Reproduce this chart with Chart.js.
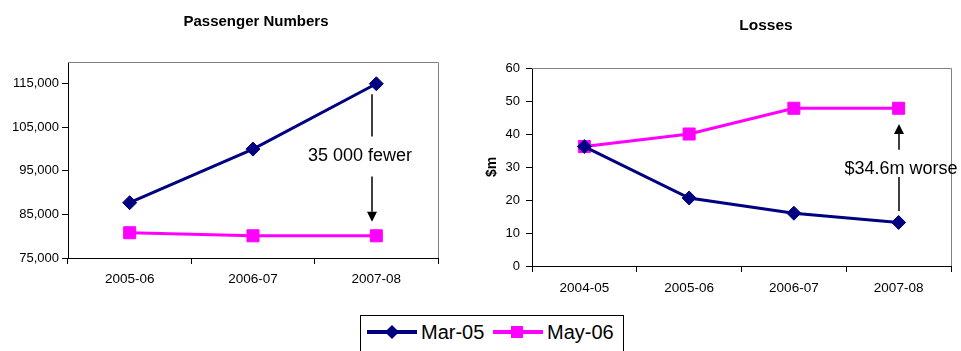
<!DOCTYPE html>
<html>
<head>
<meta charset="utf-8">
<script src="https://cdn.jsdelivr.net/npm/chart.js@4.4.1/dist/chart.umd.min.js"></script>
<style>
  body { margin: 0; background: #fff; width: 961px; height: 351px; overflow: hidden; position: relative;
         font-family: "Liberation Sans", Arial, sans-serif; color: #000; }
  canvas { position: absolute; top: 0; }
  .title { position: absolute; font-weight: bold; line-height: 1; white-space: nowrap; transform: translate(-50%, -50%); }
  #legend { position: absolute; left: 360px; top: 315px; width: 262px; height: 60px; border: 1px solid #000; }
  #legend span { position: absolute; }
  .ln { top: 14px; width: 50px; height: 4px; }
  .lt { top: 6px; font-size: 20px; line-height: 1; }
</style>
</head>
<body>
<canvas id="paxChart" width="480" height="300" style="left:0"></canvas>
<canvas id="lossChart" width="481" height="300" style="left:480px"></canvas>
<div class="title" style="left:256px;top:20px;font-size:15px">Passenger Numbers</div>
<div class="title" style="left:766px;top:25px;font-size:15.5px">Losses</div>
<div id="legend">
  <span class="ln" style="left:6px;background:#000080"></span>
  <span style="left:26px;top:11px;width:10px;height:10px;background:#000080;transform:rotate(45deg)"></span>
  <span class="lt" style="left:60px">Mar-05</span>
  <span class="ln" style="left:132px;background:#ff00ff"></span>
  <span style="left:150px;top:10px;width:12px;height:12px;background:#ff00ff"></span>
  <span class="lt" style="left:186px">May-06</span>
</div>
<script>
// --- data ---
const paxYears = ["2005-06", "2006-07", "2007-08"];
const paxMar05 = [87700, 100000, 115000];
const paxMay06 = [80800, 80100, 80100];
const paxTicks = [75000, 85000, 95000, 105000, 115000];

const lossYears = ["2004-05", "2005-06", "2006-07", "2007-08"];
const lossMar05 = [36.2, 20.6, 16.0, 13.2];
const lossMay06 = [36.2, 40.0, 47.8, 47.8];
const lossTicks = [0, 10, 20, 30, 40, 50, 60];

const navy = "#000080";
const pink = "#ff00ff";

Chart.defaults.font.family = '"Liberation Sans", Arial, sans-serif';
Chart.defaults.color = "#000";

// gray top/right edges of the plot box
const plotFrame = {
  id: "plotFrame",
  beforeDatasetsDraw(chart) {
    const { ctx, chartArea: { left, top, right, bottom } } = chart;
    ctx.save();
    ctx.strokeStyle = "#808080";
    ctx.lineWidth = 1;
    ctx.beginPath();
    ctx.moveTo(left, top + 0.5);
    ctx.lineTo(right + 0.5, top + 0.5);
    ctx.lineTo(right + 0.5, bottom);
    ctx.stroke();
    ctx.restore();
  }
};

// vertical arrow with a text in the gap
const arrowNote = {
  id: "arrowNote",
  afterDatasetsDraw(chart, args, opts) {
    if (!opts.text) return;
    const { ctx, scales: { x, y } } = chart;
    const ax = Math.round(x.getPixelForValue(opts.index) + opts.dx);
    ctx.save();
    ctx.strokeStyle = "#000";
    ctx.fillStyle = "#000";
    ctx.lineWidth = 1.5;
    opts.segments.forEach((s, i) => {
      const y0 = y.getPixelForValue(s[0]);
      const y1 = y.getPixelForValue(s[1]);
      let end = y1;
      if (i === opts.segments.length - 1) {
        const d = Math.sign(y1 - y0);
        end = y1 - d * 10;
        ctx.beginPath();
        ctx.moveTo(ax, y1);
        ctx.lineTo(ax - 5, end);
        ctx.lineTo(ax + 5, end);
        ctx.closePath();
        ctx.fill();
      }
      ctx.beginPath();
      ctx.moveTo(ax, y0);
      ctx.lineTo(ax, end);
      ctx.stroke();
    });
    ctx.font = '18px "Liberation Sans", Arial, sans-serif';
    ctx.textAlign = "center";
    ctx.textBaseline = "middle";
    ctx.fillText(opts.text, ax + opts.textDx, y.getPixelForValue(opts.textAt));
    ctx.restore();
  }
};

function series(label, data, color, style, radius) {
  return {
    label: label,
    data: data,
    borderColor: color,
    backgroundColor: color,
    borderWidth: 3,
    tension: 0,
    pointStyle: style,
    pointRadius: radius,
    pointBorderWidth: 1,
    pointBackgroundColor: color,
    pointBorderColor: color
  };
}

// --- Passenger Numbers ---
new Chart(document.getElementById("paxChart"), {
  type: "line",
  data: {
    labels: paxYears,
    datasets: [
      series("Mar-05", paxMar05, navy, "rectRot", 7),
      series("May-06", paxMay06, pink, "rect", 8.5)
    ]
  },
  options: {
    responsive: false,
    animation: false,
    layout: { padding: { top: 62, right: 42, left: 0, bottom: 0 } },
    plugins: {
      legend: { display: false },
      tooltip: { enabled: false },
      arrowNote: {
        text: "35 000 fewer", index: 2, dx: -4, textDx: -12, textAt: 98500,
        segments: [[112600, 102900], [93700, 83300]]
      }
    },
    scales: {
      x: {
        offset: true,
        grid: { offset: true, drawOnChartArea: false, color: "#000", tickLength: 6 },
        border: { color: "#000" },
        ticks: { font: { size: 13.5 }, padding: 7, maxRotation: 0 },
        afterFit: s => { s.height = 42; }
      },
      y: {
        min: 75000,
        max: 120000,
        afterBuildTicks: s => { s.ticks = paxTicks.map(v => ({ value: v })); },
        grid: { drawOnChartArea: false, color: "#000", tickLength: 6 },
        border: { color: "#000" },
        ticks: { font: { size: 13 }, padding: 3, callback: v => v.toLocaleString("en-US") },
        afterFit: s => { s.width = 68; }
      }
    }
  },
  plugins: [plotFrame, arrowNote]
});

// --- Losses ---
new Chart(document.getElementById("lossChart"), {
  type: "line",
  data: {
    labels: lossYears,
    datasets: [
      series("Mar-05", lossMar05, navy, "rectRot", 7),
      series("May-06", lossMay06, pink, "rect", 8.5)
    ]
  },
  options: {
    responsive: false,
    animation: false,
    layout: { padding: { top: 68, right: 10, left: 0, bottom: 0 } },
    plugins: {
      legend: { display: false },
      tooltip: { enabled: false },
      arrowNote: {
        text: "$34.6m worse", index: 3, dx: 0, textDx: 2, textAt: 29.4,
        segments: [[16.7, 27.0], [35.2, 43.0]]
      }
    },
    scales: {
      x: {
        offset: true,
        grid: { offset: true, drawOnChartArea: false, color: "#000", tickLength: 6 },
        border: { color: "#000" },
        ticks: { font: { size: 13.5 }, padding: 8, maxRotation: 0 },
        afterFit: s => { s.height = 34; }
      },
      y: {
        min: 0,
        max: 60,
        afterBuildTicks: s => { s.ticks = lossTicks.map(v => ({ value: v })); },
        grid: { drawOnChartArea: false, color: "#000", tickLength: 6 },
        border: { color: "#000" },
        ticks: { font: { size: 13 }, padding: 6 },
        title: { display: true, text: "$m", font: { size: 14, weight: "bold" }, padding: { top: 4, bottom: 4 } },
        afterFit: s => { s.width = 52; }
      }
    }
  },
  plugins: [plotFrame, arrowNote]
});
</script>
</body>
</html>
